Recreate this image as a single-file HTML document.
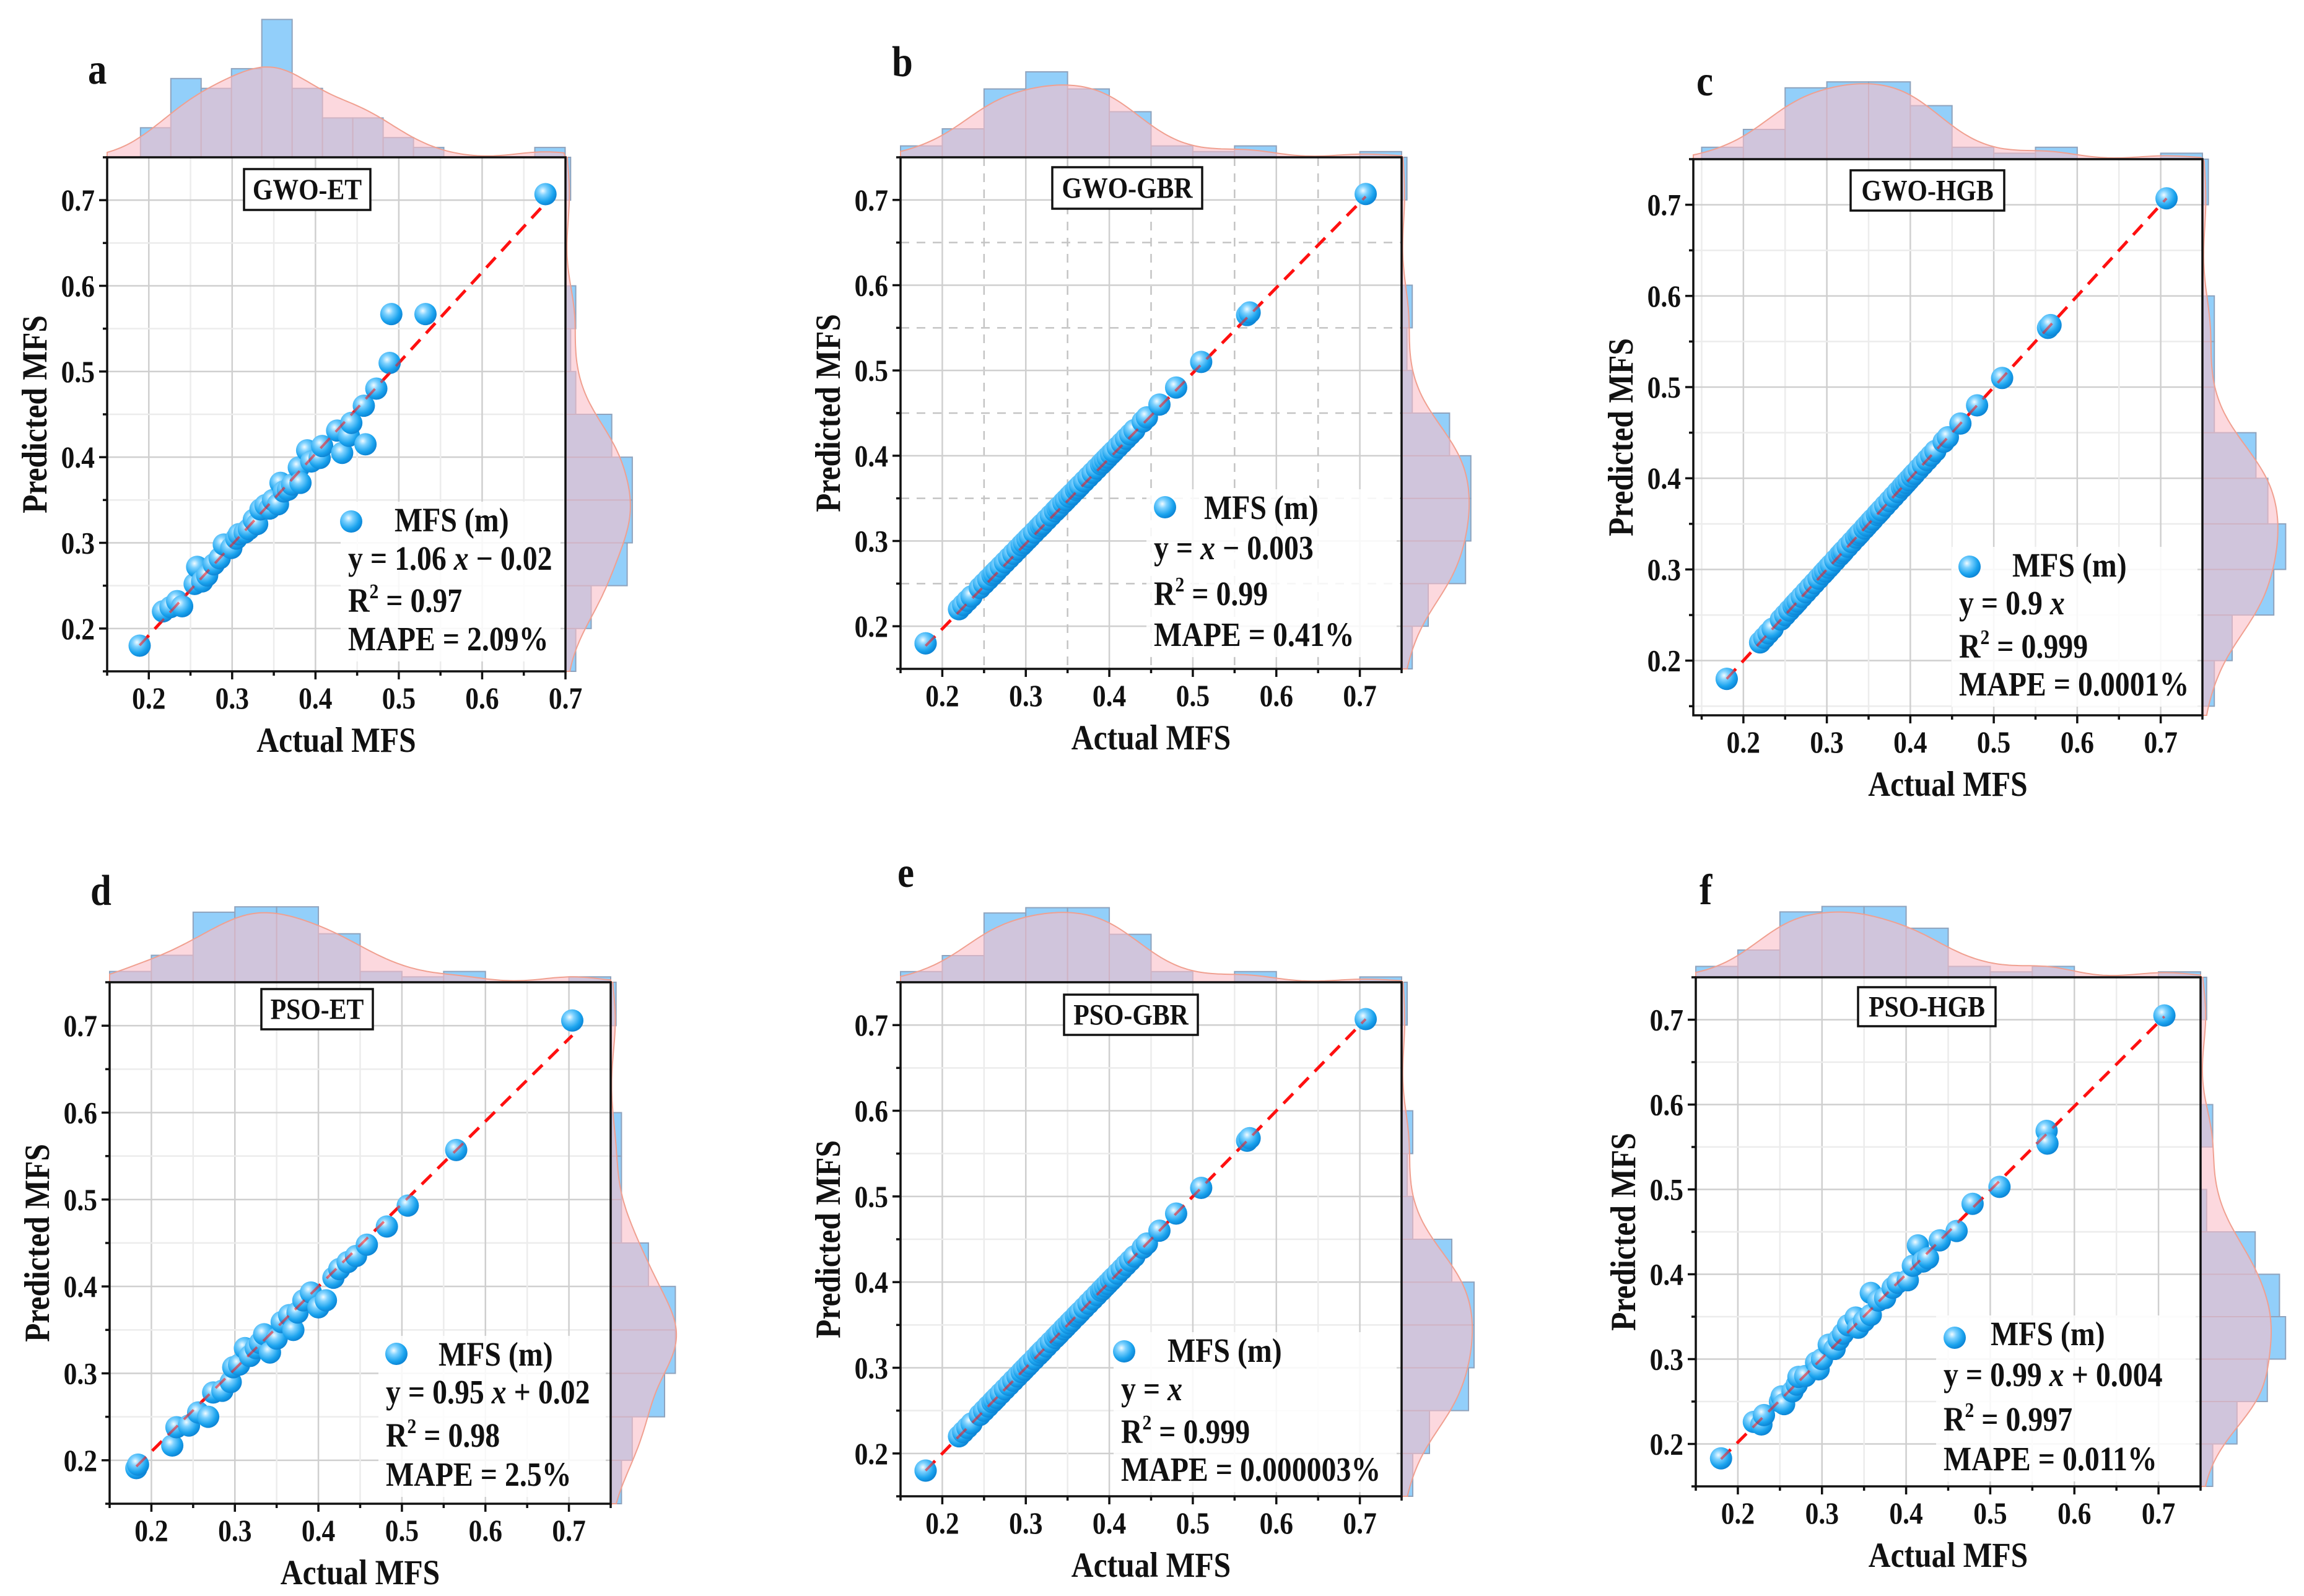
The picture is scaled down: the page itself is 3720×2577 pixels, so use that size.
<!DOCTYPE html>
<html><head><meta charset="utf-8">
<style>
html,body{margin:0;padding:0;background:#fff;}
svg{display:block;}
svg text{font-family:"Liberation Serif","DejaVu Serif","Times New Roman",serif;font-weight:bold;}
</style></head>
<body>
<svg id="chart" xmlns="http://www.w3.org/2000/svg" width="3720" height="2577" viewBox="0 0 3720 2577">
<defs>
<radialGradient id="ball" cx="38%" cy="35%" r="65%">
<stop offset="0" stop-color="#f2fbff"/>
<stop offset="0.3" stop-color="#7fd2ff"/>
<stop offset="0.75" stop-color="#1aa3ee"/>
<stop offset="1" stop-color="#0d86d6"/>
</radialGradient>
</defs>
<rect x="0" y="0" width="3720" height="2577" fill="#fff"/>
</svg>
<script>
// ---------- data ----------
const xTickVals = [0.2, 0.3, 0.4, 0.5, 0.6, 0.7];
const xTickLabels = ["0.2", "0.3", "0.4", "0.5", "0.6", "0.7"];
const yTickVals = [0.2, 0.3, 0.4, 0.5, 0.6, 0.7];
const yTickLabels = ["0.2", "0.3", "0.4", "0.5", "0.6", "0.7"];

const actualCommon = [0.18,0.18,0.22,0.225,0.23,0.235,0.245,0.25,0.255,0.26,0.262,0.265,0.27,0.275,0.28,0.285,0.29,0.295,0.298,0.302,0.305,0.31,0.315,0.318,0.32,0.325,0.33,0.335,0.338,0.34,0.345,0.348,0.352,0.355,0.36,0.362,0.365,0.37,0.375,0.38,0.385,0.39,0.392,0.395,0.398,0.402,0.405,0.41,0.415,0.42,0.425,0.43,0.44,0.445,0.46,0.48,0.51,0.565,0.568,0.707];
const predB = actualCommon.slice();
const predC = actualCommon.slice();
const predE = actualCommon.slice();

const actA = [0.189,0.217,0.226,0.234,0.24,0.255,0.258,0.264,0.27,0.278,0.285,0.29,0.299,0.305,0.308,0.315,0.32,0.326,0.33,0.334,0.34,0.345,0.349,0.355,0.358,0.362,0.367,0.372,0.38,0.382,0.39,0.395,0.405,0.408,0.426,0.432,0.44,0.443,0.458,0.46,0.473,0.489,0.491,0.532,0.676];
const predA = [0.18,0.22,0.225,0.232,0.226,0.252,0.272,0.255,0.262,0.275,0.282,0.298,0.294,0.305,0.31,0.312,0.316,0.327,0.322,0.339,0.344,0.34,0.35,0.345,0.37,0.36,0.362,0.368,0.388,0.37,0.408,0.395,0.399,0.413,0.431,0.405,0.425,0.44,0.46,0.415,0.48,0.51,0.567,0.567,0.707];

const actD = [0.182,0.184,0.225,0.23,0.245,0.256,0.268,0.274,0.285,0.295,0.298,0.305,0.312,0.318,0.325,0.33,0.335,0.342,0.35,0.356,0.365,0.37,0.375,0.382,0.391,0.4,0.409,0.418,0.425,0.435,0.445,0.458,0.482,0.507,0.565,0.704];
const predD = [0.191,0.195,0.217,0.238,0.24,0.255,0.25,0.278,0.28,0.29,0.307,0.31,0.329,0.32,0.329,0.335,0.345,0.324,0.34,0.359,0.367,0.35,0.37,0.384,0.393,0.376,0.384,0.41,0.42,0.428,0.435,0.448,0.469,0.493,0.557,0.706];

const actF = [0.18,0.219,0.228,0.231,0.25,0.252,0.255,0.265,0.27,0.272,0.28,0.293,0.296,0.3,0.308,0.315,0.32,0.325,0.331,0.34,0.343,0.35,0.358,0.358,0.367,0.375,0.384,0.39,0.402,0.408,0.414,0.42,0.426,0.44,0.46,0.479,0.511,0.567,0.568,0.707];
const predF = [0.183,0.226,0.223,0.234,0.25,0.256,0.247,0.262,0.27,0.279,0.28,0.296,0.288,0.3,0.317,0.312,0.323,0.33,0.34,0.349,0.337,0.345,0.352,0.378,0.369,0.372,0.384,0.39,0.393,0.41,0.434,0.415,0.419,0.44,0.451,0.483,0.503,0.569,0.554,0.705];

const topCountsA = [3,8,7,9,14,7,4,4,2,1,0,0,0,1];
const topCountsB = [2,5,12,15,12,8,2,1,2,0,0,1];
const topCountsC = [2,5,12,13,13,9,2,1,2,0,0,1];
const topCountsD = [2,5,13,14,14,9,2,1,2,0,0,1];
const topCountsE = [2,5,13,14,14,9,2,0,2,0,0,1];
const topCountsF = [2,5,12,13,13,9,2,1,2,0,0,1];
const rightCountsA = [2,5,12,13,13,9,2,1,2,0,0,1];
const rightCountsB = [2,5,12,13,13,9,2,1,2,0,0,1];
const rightCountsC = [2,5,12,14,11,9,2,2,2,0,0,1];
const rightCountsD = [2,4,10,12,12,7,2,2,2,0,0,1];
const rightCountsE = [2,5,12,13,13,9,2,1,2,0,0,1];
const rightCountsF = [2,6,11,14,13,9,1,0,2,0,0,1];

const fitA = [1.06, -0.02];
const fitB = [1.0, -0.003];
const fitC = [1.0, 0.0];
const fitD = [0.95, 0.02];
const fitE = [1.0, 0.0];
const fitF = [0.99, 0.004];

const modelNames = ["GWO-ET","GWO-GBR","GWO-HGB","PSO-ET","PSO-GBR","PSO-HGB"];
const eqText = [["1.06","−","0.02"],["","−","0.003"],["0.9","",""],["0.95","+","0.02"],["","",""],["0.99","+","0.004"]];
const r2Text = ["0.97","0.99","0.999","0.98","0.999","0.997"];
const mapeText = ["2.09%","0.41%","0.0001%","2.5%","0.000003%","0.011%"];

const panels = [
 {id:"a",letter:[142,135],L:173,R:913,T:254,B:1084,x0:0.15,x1:0.7,y0:0.15,y1:0.75,
  ax:actA,py:predA,tc:topCountsA,hx0:0.19,hw:0.0364,hs:15.9,rc:rightCountsA,rs:8.3,fit:fitA,
  box:[394,273,598,339],leg:{dx:567,dy:842,mx:637,lx:562,b:[858,920,988,1050]}},
 {id:"b",letter:[1440,123],L:1454,R:2263,T:254,B:1080,x0:0.15,x1:0.75,y0:0.15,y1:0.75,dash:true,
  ax:actualCommon,py:predB,tc:topCountsB,hx0:0.15,hw:0.05,hs:9.2,rc:rightCountsB,rs:8.6,fit:fitB,
  box:[1699,270,1941,337],leg:{dx:1881,dy:819,mx:1944,lx:1863,b:[838,903,977,1043]}},
 {id:"c",letter:[2739,154],L:2734,R:3556,T:257,B:1155,x0:0.14,x1:0.75,y0:0.14,y1:0.75,
  ax:actualCommon,py:predC,tc:topCountsC,hx0:0.15,hw:0.05,hs:9.6,rc:rightCountsC,rs:9.6,fit:fitC,
  box:[2988,275,3236,340],leg:{dx:3180,dy:915,mx:3249,lx:3163,b:[931,992,1062,1123]}},
 {id:"d",letter:[146,1461],L:177,R:986,T:1586,B:2428,x0:0.15,x1:0.75,y0:0.15,y1:0.75,
  ax:actD,py:predD,tc:topCountsD,hx0:0.15,hw:0.05,hs:8.7,rc:rightCountsD,rs:8.7,fit:fitD,
  box:[422,1597,602,1662],leg:{dx:640,dy:2186,mx:708,lx:623,b:[2205,2266,2336,2399]}},
 {id:"e",letter:[1449,1432],L:1454,R:2263,T:1586,B:2416,x0:0.15,x1:0.75,y0:0.15,y1:0.75,
  ax:actualCommon,py:predE,tc:topCountsE,hx0:0.15,hw:0.05,hs:8.6,rc:rightCountsE,rs:9,fit:fitE,
  box:[1718,1606,1934,1671],leg:{dx:1815,dy:2182,mx:1885,lx:1810,b:[2199,2261,2330,2391]}},
 {id:"f",letter:[2744,1460],L:2738,R:3553,T:1578,B:2400,x0:0.15,x1:0.75,y0:0.15,y1:0.75,
  ax:actF,py:predF,tc:topCountsF,hx0:0.15,hw:0.05,hs:8.8,rc:rightCountsF,rs:9.8,fit:fitF,
  box:[3000,1594,3222,1657],leg:{dx:3156,dy:2160,mx:3214,lx:3138,b:[2172,2238,2310,2374]}}
];

const NS = "http://www.w3.org/2000/svg";
const svg = document.getElementById("chart");
const SERIF = '"Liberation Serif","DejaVu Serif","Times New Roman",serif';
const SQ = 0.87;
const KDE_FILL = "rgb(250,190,200)";
function mk(tag, attrs, parent){
  const e = document.createElementNS(NS, tag);
  if (tag === "text") {
    const x = attrs.x, y = attrs.y, rot = attrs.rot;
    delete attrs.x; delete attrs.y; delete attrs.rot;
    let tf = "translate(" + x + " " + y + ")";
    if (rot) tf += " rotate(" + rot + ")";
    tf += " scale(" + SQ + " 1)";
    e.setAttribute("transform", tf);
    e.setAttribute("x", 0); e.setAttribute("y", 0);
    e.setAttribute("font-family", SERIF); e.setAttribute("font-weight", "bold");
  }
  for (const k in attrs) e.setAttribute(k, attrs[k]);
  (parent||svg).appendChild(e);
  return e;
}
function kde(data, v, h){
  let s = 0;
  for (const d of data){ const z=(v-d)/h; s += Math.exp(-0.5*z*z); }
  return s/(h*Math.sqrt(2*Math.PI));
}

panels.forEach((p, pi) => {
  const g = mk("g", {});
  
  
  const sx = v => p.L + (v - p.x0)/(p.x1 - p.x0)*(p.R - p.L);
  const sy = v => p.B - (v - p.y0)/(p.y1 - p.y0)*(p.B - p.T);
  const bw = 0.035;

  mk("rect", {x:p.L, y:p.T, width:p.R-p.L, height:p.B-p.T, fill:"#fff"}, g);

  const topG = mk("g", {}, g);
  
  
  const topTotal = p.tc.reduce((a,b)=>a+b,0);
  p.tc.forEach((c, i) => {
    if (c <= 0) return;
    const xa = sx(p.hx0 + i*p.hw), xb = sx(p.hx0 + (i+1)*p.hw);
    const r = mk("rect", {x:xa, y:p.T - c*p.hs, width:xb-xa, height:c*p.hs, fill:"#92cffa", stroke:"#8fa3bd", "stroke-width":2}, topG);
    
    
  });
  let d = "M" + sx(p.x0) + "," + p.T;
  for (let v = p.x0; v <= p.x1 + 1e-9; v += 0.004){
    const hgt = kde(p.ax, v, bw) * (topTotal/p.ax.length) * p.hw * p.hs;
    d += " L" + sx(v).toFixed(1) + "," + (p.T - hgt).toFixed(1);
  }
  d += " L" + sx(p.x1) + "," + p.T + " Z";
  const tk = mk("path", {d:d, fill:KDE_FILL, "fill-opacity":0.6, stroke:"#f0a090", "stroke-width":2}, topG);
  
  

  const rG = mk("g", {}, g);
  
  
  const rTotal = p.rc.reduce((a,b)=>a+b,0);
  const rb0 = 0.15, rbw = 0.05;
  p.rc.forEach((c, i) => {
    if (c <= 0) return;
    const ya = sy(rb0 + (i+1)*rbw), yb = sy(rb0 + i*rbw);
    const r = mk("rect", {x:p.R, y:ya, width:c*p.rs, height:yb-ya, fill:"#92cffa", stroke:"#8fa3bd", "stroke-width":2}, rG);
    
    
  });
  d = "M" + p.R + "," + sy(p.y0);
  for (let v = p.y0; v <= p.y1 + 1e-9; v += 0.004){
    const w = kde(p.py, v, bw) * (rTotal/p.py.length) * rbw * p.rs;
    d += " L" + (p.R + w).toFixed(1) + "," + sy(v).toFixed(1);
  }
  d += " L" + p.R + "," + sy(p.y1) + " Z";
  const rk = mk("path", {d:d, fill:KDE_FILL, "fill-opacity":0.6, stroke:"#f0a090", "stroke-width":2}, rG);
  
  

  const gridG = mk("g", {}, g);
  
  
  for (let k = 0; k < 13; k++){
    const v = 0.15 + k*0.05;
    const minor = (k % 2 === 0);
    const col = minor ? (p.dash ? "#c4c4c4" : "#ececec") : "#cfcfcf";
    const dash = (minor && p.dash) ? "14,12" : "none";
    if (v > p.x0 + 1e-6 && v < p.x1 - 1e-6)
      mk("line", {x1:sx(v), x2:sx(v), y1:p.T, y2:p.B, stroke:col, "stroke-width":2.5, "stroke-dasharray":dash}, gridG);
    if (v > p.y0 + 1e-6 && v < p.y1 - 1e-6)
      mk("line", {x1:p.L, x2:p.R, y1:sy(v), y2:sy(v), stroke:col, "stroke-width":2.5, "stroke-dasharray":dash}, gridG);
  }

  const lg = p.leg;
  const lbg = mk("rect", {x:lg.lx - 12, y:lg.b[0] - 48, width:p.R - lg.lx + 4, height:lg.b[3] - lg.b[0] + 66, fill:"#fff", "fill-opacity":0.85}, g);
  
  

  const fr = mk("rect", {x:p.L, y:p.T, width:p.R-p.L, height:p.B-p.T, fill:"none", stroke:"#111", "stroke-width":3.5}, g);
  
  

  const axG = mk("g", {}, g);
  
  
  for (let k = 0; k < 13; k++){
    const v = 0.15 + k*0.05;
    const len = (k % 2 === 1) ? 13 : 7;
    if (v >= p.x0 - 1e-6 && v <= p.x1 + 1e-6)
      mk("line", {x1:sx(v), x2:sx(v), y1:p.B, y2:p.B + len, stroke:"#111", "stroke-width":3.5}, axG);
    if (v >= p.y0 - 1e-6 && v <= p.y1 + 1e-6)
      mk("line", {x1:p.L, x2:p.L - len, y1:sy(v), y2:sy(v), stroke:"#111", "stroke-width":3.5}, axG);
  }
  xTickVals.forEach((v, i) => {
    const t = mk("text", {x:sx(v), y:p.B + 60, "text-anchor":"middle", "font-size":50, fill:"#111"}, axG);
    t.textContent = xTickLabels[i];
    
    
  });
  yTickVals.forEach((v, i) => {
    const t = mk("text", {x:p.L - 20, y:sy(v) + 17, "text-anchor":"end", "font-size":50, fill:"#111"}, axG);
    t.textContent = yTickLabels[i];
    
    
  });
  const xt = mk("text", {x:(p.L + p.R)/2, y:p.B + 130, "text-anchor":"middle", "font-size":57, fill:"#111"}, axG);
  xt.textContent = "Actual MFS";
  
  
  const ycx = p.L - 98, ycy = (p.T + p.B)/2;
  const yt = mk("text", {x:ycx, y:ycy, rot:-90, "text-anchor":"middle", "font-size":57, fill:"#111"}, axG);
  yt.textContent = "Predicted MFS";
  
  

  const xmin = Math.min.apply(null, p.ax), xmax = Math.max.apply(null, p.ax);
  const fl = mk("line", {x1:sx(xmin), y1:sy(p.fit[0]*xmin + p.fit[1]), x2:sx(xmax), y2:sy(p.fit[0]*xmax + p.fit[1]), stroke:"#ff1010", "stroke-width":5, "stroke-dasharray":"22,14"}, g);
  
  

  const ptG = mk("g", {}, g);
  
  
  p.ax.forEach((xv, i) => {
    const c = mk("circle", {cx:sx(xv), cy:sy(p.py[i]), r:18, fill:"url(#ball)"}, ptG);
    
    
  });
  const fl2 = mk("line", {x1:sx(xmin), y1:sy(p.fit[0]*xmin + p.fit[1]), x2:sx(xmax), y2:sy(p.fit[0]*xmax + p.fit[1]), stroke:"#ff1010", "stroke-width":4, "stroke-dasharray":"22,14", "stroke-opacity":0.55}, g);
  
  

  const bx = p.box;
  const tb = mk("rect", {x:bx[0], y:bx[1], width:bx[2]-bx[0], height:bx[3]-bx[1], fill:"#fff", stroke:"#111", "stroke-width":3.5}, g);
  
  
  const tt = mk("text", {x:(bx[0]+bx[2])/2, y:(bx[1]+bx[3])/2 + 16, "text-anchor":"middle", "font-size":48, fill:"#111"}, g);
  tt.textContent = modelNames[pi];
  
  

  const lgG = mk("g", {}, g);
  
  
  const ld = mk("circle", {cx:lg.dx, cy:lg.dy, r:18, fill:"url(#ball)"}, lgG);
  
  
  const l1 = mk("text", {x:lg.mx, y:lg.b[0], "font-size":55, fill:"#111"}, lgG);
  l1.textContent = "MFS (m)";
  
  
  const l2 = mk("text", {x:lg.lx, y:lg.b[1], "font-size":55, fill:"#111"}, lgG);
  
  
  const eq = eqText[pi];
  const s1 = mk("tspan", {}, l2); s1.textContent = "y = " + (eq[0] ? eq[0] + " " : "");
  const s2 = mk("tspan", {"font-style":"italic"}, l2); s2.textContent = "x";
  if (eq[1]) { const s3 = mk("tspan", {}, l2); s3.textContent = " " + eq[1] + " " + eq[2]; }
  const l3 = mk("text", {x:lg.lx, y:lg.b[2], "font-size":55, fill:"#111"}, lgG);
  
  
  const r1 = mk("tspan", {}, l3); r1.textContent = "R";
  const r2 = mk("tspan", {"font-size":34, dy:-22}, l3); r2.textContent = "2";
  const r3 = mk("tspan", {dy:22}, l3); r3.textContent = " = " + r2Text[pi];
  const l4 = mk("text", {x:lg.lx, y:lg.b[3], "font-size":55, fill:"#111"}, lgG);
  l4.textContent = "MAPE = " + mapeText[pi];
  
  

  const pl = mk("text", {x:p.letter[0], y:p.letter[1], "font-size":70, fill:"#111"}, g);
  pl.textContent = p.id;
  
  
});
</script>
</body></html>
